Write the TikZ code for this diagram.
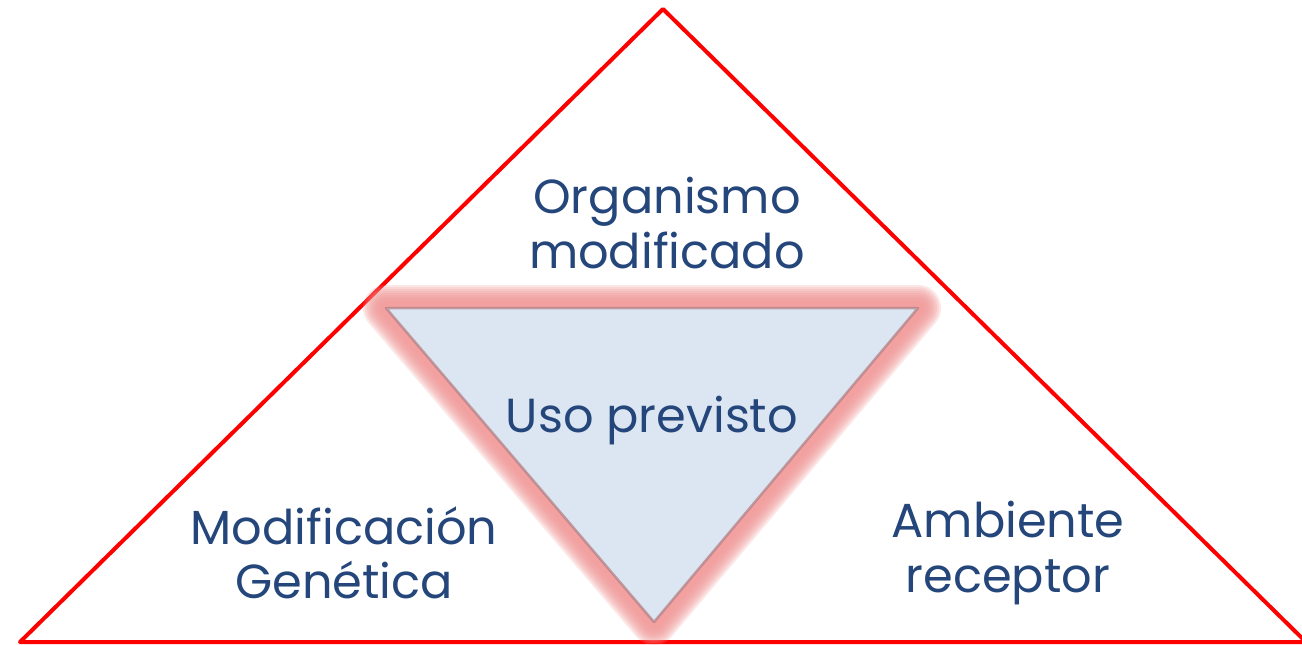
\documentclass[tikz,border=0pt]{standalone}
\usepackage{fontspec}
\setmainfont{Poppins}
\usepackage{tikz}
\usetikzlibrary{positioning}
\definecolor{textblue}{RGB}{36,70,122}
\definecolor{innerfill}{RGB}{220,230,242}
\definecolor{glowred}{RGB}{242,150,150}
\definecolor{shadowedge}{RGB}{175,125,130}

\begin{document}
\begin{tikzpicture}[x=0.01cm, y=-0.01cm]
			\tikzset{label/.style={text=textblue, align=center, font=\fontsize{13.6}{15.4}\selectfont},
				glow/.style={draw=glowred, line join=round, opacity=0.22}}
			\useasboundingbox (0, 0) rectangle (1302, 644);
			\fill[white] (0, 0) rectangle (1302, 644);

			\coordinate (A) at (663, 9);
			\coordinate (B) at (20, 642);
			\coordinate (C) at (1306, 642);
			\draw[red, line width=0.04cm, line join=round] (A) -- (B) -- (C) -- cycle;

			\coordinate (P) at (386, 308);
			\coordinate (Q) at (918, 308);
			\coordinate (R) at (654, 622);
			\foreach \w in {46, 42, 38, 34, 30, 26, 22, 18, 14}
				\draw[glow, line width=\w*0.01cm] (P) -- (Q) -- (R) -- cycle;
			\fill[innerfill] (P) -- (Q) -- (R) -- cycle;
			\draw[shadowedge, line width=0.025cm, line join=round, opacity=0.7] (P) -- (Q) -- (R) -- cycle;

			\node[label] (org) at (667, 223) {Organismo\\modificado};
			\node[label] (uso) at (652, 420) {Uso previsto};
			\node[label] (mod) at (344, 553) {Modificación\\Genética};
			\node[label] (amb) at (1008, 553) {Ambiente\\receptor};
		\end{tikzpicture}
\end{document}
